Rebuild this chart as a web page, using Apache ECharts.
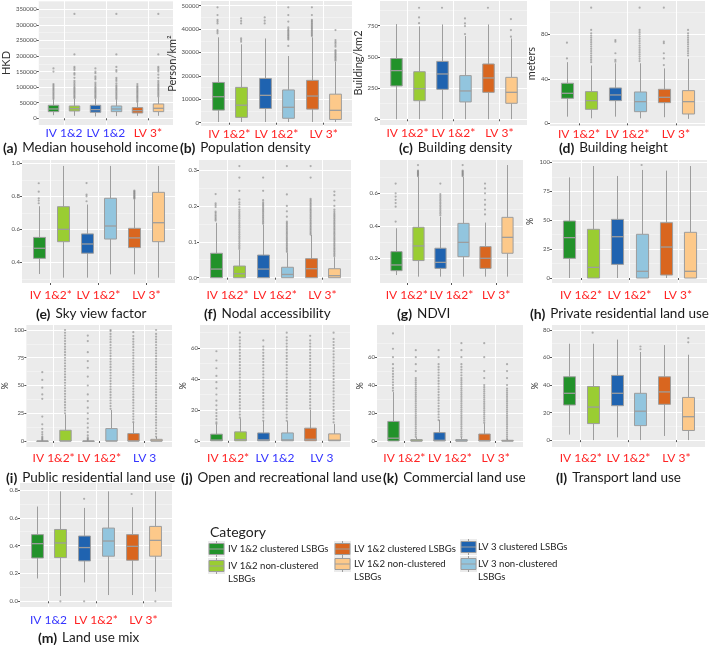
<!DOCTYPE html>
<html><head><meta charset="utf-8">
<script src="https://cdn.jsdelivr.net/npm/echarts@6/dist/echarts.min.js"></script>
<style>html,body{margin:0;padding:0;background:#fff}#c{width:709px;height:645px}</style>
</head><body><div id="c"></div>
<script>
// ---------- categories ----------
const boxNames = ['IV 1&2 clustered LSBGs','IV 1&2 non-clustered LSBGs','LV 3 clustered LSBGs','LV 3 non-clustered LSBGs','LV 1&2 clustered LSBGs','LV 1&2 non-clustered LSBGs'];
const boxColors = ['#22922a','#9acd32','#1f63b0','#92c5de','#d9661f','#fdc98a'];
const legendOrder = [0,1,4,5,2,3];
const legendTexts = ['IV 1&2 clustered LSBGs','IV 1&2 non-clustered\nLSBGs','LV 1&2 clustered LSBGs','LV 1&2 non-clustered\nLSBGs','LV 3 clustered LSBGs','LV 3 non-clustered\nLSBGs'];

// ---------- (a) Median household income ----------
const incomeLabels = ['IV 1&2','LV 1&2','LV 3*'];
const incomeTicks = ['0','50000','100000','150000','200000','250000','300000','350000'];
const incomeBoxes = [[10000,21400,30000,41800,60000],[8000,23500,31000,39600,62000],[6000,19300,27800,41800,62000],[7000,21400,30000,39600,60000],[8000,17100,24600,34300,50000],[8000,21400,32100,46000,68000]];
const incomeOutliers = [
 [62000,66000,70000,74000,78000,82000,86000,90000,94000,98000,102000,106000,110000,150000,160000],
 [64000,68000,72000,76000,80000,84000,88000,92000,96000,100000,105000,110000,115000,120000,130000,140000,145000,155000,160000,165000,205000,335000],
 [64000,68000,72000,76000,80000,84000,88000,92000,96000,100000,105000,110000,115000,125000,130000,135000,145000,150000,160000],
 [62000,66000,70000,74000,78000,82000,86000,90000,94000,98000,102000,106000,112000,120000,125000,130000,150000,155000,165000,205000,335000],
 [52000,56000,60000,64000,68000,72000,76000,80000,84000,88000,92000,96000,100000,104000,110000],
 [70000,74000,78000,82000,86000,90000,94000,98000,102000,106000,110000,115000,120000,130000,140000,150000,155000,160000,165000,205000,335000]
];
// ---------- (b) Population density ----------
const popLabels = ['IV 1&2*','LV 1&2*','LV 3*'];
const popTicks = ['0','10000','20000','30000','40000','50000'];
const popBoxes = [[300,5400,11100,17200,36500],[300,2300,7500,15100,33500],[300,6100,11700,18900,36000],[300,1900,6600,14000,28500],[300,5800,11400,18100,36500],[300,1400,5300,12200,26000]];
const popOutliers = [
 [38200,38900,39600,42400,43200,43900,46000,49300],
 [34600,35300,36000,42400,43500,44600],
 [42400,43600,45000],
 [32800,35500,36000,36500,37000,37500,38000,38500,39000,39500,40000,40700,43200,46000,49300],
 [37000,37500,38000,38500,39000,39500,40000,40500,41000,41500,42000,42500,43000,43500,44000,46000,49300],
 [26500,27000,27500,28000,28500,29000,29500,30000,30500,31000,32500,33200,34000,34600,35300,39600]
];
// ---------- (c) Building density ----------
const bldLabels = ['IV 1&2*','LV 1&2*','LV 3*'];
const bldTicks = ['0','250','500','750'];
const bldBoxes = [[0,267,390,488,763],[0,149,245,381,745],[0,240,363,464,760],[0,139,227,350,667],[0,216,331,443,760],[0,128,216,336,648]];
const bldOutliers = [[],[770,816,894],[894],[683,747,768,808],[894],[662,715,803]];
// ---------- (d) Building height ----------
const hgtLabels = ['IV 1&2*','LV 1&2*','LV 3*'];
const hgtTicks = ['0','40','80'];
const hgtBoxes = [[6,22.5,27,36,55],[4.5,12.6,20.4,28.5,52],[6,20.4,25.5,31.8,54],[4.5,10.5,19.5,28.2,54],[5.5,18.6,23.4,30.6,49.4],[4,8.4,19.5,29.4,58]];
const hgtOutliers = [
 [58.4,72.5],
 [55,57,59,61,63,65,67,69,71,73,75,77,79,81,84,104],
 [55.4,57,63,73.4,74.9],
 [56,58,60,62,64,66,68,70,72,74,76,78,80,82,84,104],
 [52.4,58.4,63,72,73.4,104],
 [61,63,65,67,69,71,73,75,77,79,81,84]
];
// ---------- (e) Sky view factor ----------
const svfLabels = ['IV 1&2*','LV 1&2*','LV 3*'];
const svfTicks = ['0.4','0.6','0.8','1.0'];
const svfBoxes = [[0.329,0.424,0.485,0.551,0.74],[0.307,0.525,0.600,0.737,0.984],[0.307,0.455,0.511,0.572,0.75],[0.327,0.541,0.620,0.788,0.984],[0.327,0.489,0.548,0.606,0.78],[0.307,0.525,0.640,0.824,0.984]];
const svfOutliers = [[0.758,0.774,0.788,0.828,0.879],[],[0.77,0.80,0.81,0.88],[],[0.785,0.79,0.795,0.80,0.805,0.81,0.815,0.82,0.825,0.83,0.835],[]];
// ---------- (f) Nodal accessibility ----------
const nodLabels = ['IV 1&2*','LV 1&2*','LV 3*'];
const nodTicks = ['0.0','0.1','0.2','0.3'];
const nodBoxes = [[0,0,0.024,0.068,0.153],[0,0,0.011,0.0325,0.077],[0,0,0.024,0.063,0.147],[0,0,0.009,0.029,0.07],[0,0,0.025,0.053,0.119],[0,0,0.0056,0.025,0.057]];
const nodOutliers = [
 [0.159,0.163,0.167,0.171,0.175,0.18,0.184,0.197,0.202,0.207,0.233],
 [0.08,0.085,0.09,0.095,0.1,0.105,0.11,0.115,0.12,0.125,0.13,0.135,0.14,0.145,0.15,0.155,0.16,0.165,0.17,0.175,0.18,0.185,0.19,0.197,0.204,0.21,0.218,0.242,0.279,0.311],
 [0.15,0.154,0.158,0.162,0.166,0.17,0.174,0.178,0.182,0.186,0.19,0.194,0.198,0.202,0.206,0.21,0.216,0.242,0.279],
 [0.072,0.076,0.08,0.084,0.088,0.092,0.096,0.1,0.104,0.108,0.112,0.116,0.12,0.124,0.128,0.132,0.136,0.14,0.144,0.148,0.152,0.156,0.17,0.185,0.2,0.232,0.311],
 [0.12,0.124,0.128,0.132,0.136,0.14,0.144,0.148,0.152,0.156,0.16,0.164,0.168,0.172,0.176,0.18,0.184,0.188,0.192,0.196,0.2,0.204,0.208,0.212,0.216,0.22,0.279,0.311],
 [0.06,0.064,0.068,0.072,0.076,0.08,0.084,0.088,0.092,0.096,0.1,0.104,0.108,0.112,0.116,0.12,0.124,0.128,0.132,0.136,0.14,0.144,0.148,0.152,0.156,0.16,0.164,0.168,0.172,0.176,0.18,0.185,0.19,0.2,0.215,0.23,0.24]
];
// ---------- (g) NDVI ----------
const ndviLabels = ['IV 1&2*','LV 1&2*','LV 3*'];
const ndviTicks = ['0.2','0.4','0.6'];
const ndviBoxes = [[0.097,0.124,0.159,0.241,0.385],[0.087,0.186,0.276,0.391,0.70],[0.087,0.138,0.175,0.262,0.456],[0.087,0.21,0.298,0.415,0.70],[0.087,0.138,0.2,0.272,0.42],[0.087,0.231,0.329,0.452,0.774]];
const ndviOutliers = [
 [0.426,0.518,0.54,0.56,0.58,0.6,0.66],
 [0.705,0.71,0.715,0.72,0.725,0.73,0.735,0.74,0.774],
 [0.465,0.475,0.485,0.495,0.505,0.515,0.525,0.535,0.545,0.555,0.565,0.575,0.585,0.595,0.66],
 [0.705,0.71,0.715,0.72,0.725,0.73,0.735,0.74,0.774],
 [0.47,0.5,0.53,0.56,0.6,0.63,0.66],
 []
];
// ---------- (h) Private residential land use ----------
const privLabels = ['IV 1&2*','LV 1&2*','LV 3*'];
const privTicks = ['0','25','50','75','100'];
const privBoxes = [[0,17,34.9,49.3,87],[0,0,9.2,42.1,96.8],[0,11.8,35.7,50.7,88.2],[0,0,5.8,37.8,93.4],[0,2.6,26.8,47.8,92.8],[0,0,5.8,39.5,96.8]];
const privOutliers = [[],[],[],[97.7],[],[]];
// ---------- (i) Public residential land use ----------
const pubLabels = ['IV 1&2*','LV 1&2*','LV 3'];
const pubTicks = ['0','25','50','75','100'];
const pubBoxes = [[0,0,0,0,0],[0,0,0,9.7,24],[0,0,0,0,0],[0,0,0,11.2,28],[0,0,0,6.7,16.5],[0,0,0,1.5,3.7]];
const pubOutliers = [
 [1,2,3,4,6,8,11,15,22,38,42,48,55,62],
 [25,27.5,30,32.5,35,37.5,40,42.5,45,47.5,50,52.5,55,57.5,60,62.5,65,67.5,70,72.5,75,77.5,80,82.5,85,87.5,90,92.5,95,97.5,100],
 [1,2,3,5,8,12,16,20,25,30,36,42,50,58,66,72,80,90,95],
 [29,31.5,34,36.5,39,41.5,44,46.5,49,51.5,54,56.5,59,61.5,64,66.5,69,71.5,74,76.5,79,81.5,84,86.5,89,91.5,94,96.5,99,100],
 [17,19.5,22,24.5,27,29.5,32,34.5,37,39.5,42,44.5,47,49.5,52,54.5,57,59.5,62,64.5,67,69.5,72,74.5,77,79.5,82,84.5,87,89.5,92,94.5,98],
 [4,6.5,9,11.5,14,16.5,19,21.5,24,26.5,29,31.5,34,36.5,39,41.5,44,46.5,49,51.5,54,56.5,59,61.5,64,66.5,69,71.5,74,76.5,79,81.5,84,86.5,89,91.5,94,96.5,100]
];
// ---------- (j) Open and recreational land use ----------
const openLabels = ['IV 1&2*','LV 1&2','LV 3'];
const openTicks = ['0','20','40','60'];
const openBoxes = [[0,0,0.5,4.3,10.5],[0,0,0.8,5.8,14.5],[0,0,0.6,5.1,12.7],[0,0,0.6,5.1,12.7],[0,0,1,8.2,20],[0,0,0.4,4.5,11]];
const openOutliers = [
 [11,12,14,16,18,20,23,26,30,34,38,42,47,52,58],
 [15,17,19,21,23,25,27,29,31,33,35,37,39,41,43,45,47,49,51,53,55,57,59,61,63,65,67,70],
 [13,15,17,19,21,23,25,27,29,31,33,35,37,39,41,43,45,47,49,51,53,55,57,59,61,65],
 [13,15,17,19,21,23,25,27,29,31,33,35,37,39,41,43,45,47,49,51,53,55,57,59,61,63,65,67,70],
 [21,23,25,27,29,31,33,35,37,39,41,43,45,47,49,51,53,55,57,59,61,63,65,68],
 [12,14,16,18,20,22,24,26,28,30,32,34,36,38,40,42,44,46,48,50,52,54,56,58,60,62,64,66,70]
];
// ---------- (k) Commercial land use ----------
const comLabels = ['IV 1&2*','LV 1&2*','LV 3*'];
const comTicks = ['0','20','40','60'];
const comBoxes = [[0,0,2,14,35],[0,0,0,1,2.5],[0,0,0.5,6,15],[0,0,0,1,2.5],[0,0,0.3,5,12.5],[0,0,0,0.5,1.2]];
const comOutliers = [
 [36,38,40,42,44,46,48,50,52,55,60,66,77],
 [3,4.5,6,7.5,9,10.5,12,13.5,15,16.5,18,19.5,21,22.5,24,25.5,27,28.5,30,31.5,33,34.5,36,37.5,39,40.5,42,43.5,45,50,55,60,65],
 [15,17,19,21,23,25,27,29,31,33,35,37,39,41,43,45,47,49,51,53,55,60,65],
 [3,4.5,6,7.5,9,10.5,12,13.5,15,16.5,18,19.5,21,22.5,24,25.5,27,28.5,30,31.5,33,34.5,36,37.5,39,40.5,42,43.5,45,47,49,51,53,55,60,65,70],
 [13,14.5,16,17.5,19,20.5,22,23.5,25,26.5,28,29.5,31,32.5,34,35.5,37,38.5,40,45,50,60,70],
 [1.5,3,4.5,6,7.5,9,10.5,12,13.5,15,16.5,18,19.5,21,22.5,24,25.5,27,28.5,30,31.5,33,34.5,36,37.5,40,45,50,55]
];
// ---------- (l) Transport land use ----------
const trnLabels = ['IV 1&2*','LV 1&2*','LV 3*'];
const trnTicks = ['0','20','40','60','80'];
const trnBoxes = [[4,25.5,34,46,70],[0,12,24,39,70],[2,25,34,47,73],[0,10.5,21,34,64],[3,26,35,46,69],[0,7,17,31,62]];
const trnOutliers = [[],[78],[],[66,68],[],[71,74]];
// ---------- (m) Land use mix ----------
const mixLabels = ['IV 1&2','LV 1&2*','LV 3*'];
const mixTicks = ['0.0','0.2','0.4','0.6','0.8'];
const mixBoxes = [[0.164,0.311,0.414,0.479,0.681],[0.038,0.314,0.419,0.516,0.79],[0.136,0.29,0.386,0.469,0.671],[0.045,0.324,0.433,0.526,0.79],[0.045,0.295,0.395,0.479,0.676],[0.069,0.324,0.438,0.538,0.79]];
const mixOutliers = [[],[0],[0,0.736],[],[0.771],[0]];

// ---------- layout (positions / styles only) ----------
const panels = [
 {tag:'(a)', cap:'Median household income', labels:incomeLabels, ticks:incomeTicks, boxes:incomeBoxes, out:incomeOutliers, yName:'HKD', gap:21, rect:[32,1,173,125], range:[-21500,376650], lm:2, cap0:[3,147]},
 {tag:'(b)', cap:'Population density', labels:popLabels, ticks:popTicks, boxes:popBoxes, out:popOutliers, yName:'Person/km\u00b2', gap:14, rect:[201,1,352,126], range:[-1400,52000], lm:2, cap0:[180,147]},
 {tag:'(c)', cap:'Building density', labels:bldLabels, ticks:bldTicks, boxes:bldBoxes, out:bldOutliers, yName:'Building/km2', gap:11, rect:[380,1,527,125], range:[-46,948], lm:2, cap0:[399,147]},
 {tag:'(d)', cap:'Building height', labels:hgtLabels, ticks:hgtTicks, boxes:hgtBoxes, out:hgtOutliers, yName:'meters', gap:5, rect:[550,1,705,126], range:[-2.4,110], lm:2, cap0:[559,147]},
 {tag:'(e)', cap:'Sky view factor', labels:svfLabels, ticks:svfTicks, boxes:svfBoxes, out:svfOutliers, yName:'', gap:10, rect:[22,160,175,283], range:[0.2746,1.02], lm:6, cap0:[36,313]},
 {tag:'(f)', cap:'Nodal accessibility', labels:nodLabels, ticks:nodTicks, boxes:nodBoxes, out:nodOutliers, yName:'', gap:10, rect:[199,160,351,283], range:[-0.0148,0.3279], lm:6, cap0:[204,313]},
 {tag:'(g)', cap:'NDVI', labels:ndviLabels, ticks:ndviTicks, boxes:ndviBoxes, out:ndviOutliers, yName:'', gap:10, rect:[380,160,523,283], range:[0.048,0.805], lm:6, cap0:[397,313]},
 {tag:'(h)', cap:'Private residential land use', labels:privLabels, ticks:privTicks, boxes:privBoxes, out:privOutliers, yName:'%', gap:17, rect:[552,160,707,283], range:[-4.3,102], lm:6, cap0:[530,313]},
 {tag:'(i)', cap:'Public residential land use', labels:pubLabels, ticks:pubTicks, boxes:pubBoxes, out:pubOutliers, yName:'%', gap:8, rect:[22,325,172,447], range:[-5.4,104.5], lm:5, cap0:[6,477]},
 {tag:'(j)', cap:'Open and recreational land use', labels:openLabels, ticks:openTicks, boxes:openBoxes, out:openOutliers, yName:'%', gap:8, rect:[200,325,350,447], range:[-4,75], lm:5, cap0:[181,477]},
 {tag:'(k)', cap:'Commercial land use', labels:comLabels, ticks:comTicks, boxes:comBoxes, out:comOutliers, yName:'%', gap:6, rect:[377,325,523,447], range:[-4.3,83], lm:5, cap0:[383,477]},
 {tag:'(l)', cap:'Transport land use', labels:trnLabels, ticks:trnTicks, boxes:trnBoxes, out:trnOutliers, yName:'%', gap:7, rect:[552,325,705,447], range:[-5,83.6], lm:5, cap0:[556,477]},
 {tag:'(m)', cap:'Land use mix', labels:mixLabels, ticks:mixTicks, boxes:mixBoxes, out:mixOutliers, yName:'', gap:10, rect:[20,483,172,607], range:[-0.041,0.85], lm:7, cap0:[38,637]}
];

const FONT = 'Lato, "Noto Sans", sans-serif';
const GRID_BG = '#ebebeb';
const EDGE = '#9d9d9d';
// ggplot-like dodge: pair centres at 1,2,3, boxes at +-0.25
const boxX = i => Math.floor(i / 2) + 1 + (i % 2 ? 0.25 : -0.25);

function renderBox(params, api) {
  const x = api.value(0);
  const pLow = api.coord([x, api.value(1)]);
  const pQ1 = api.coord([x, api.value(2)]);
  const pMed = api.coord([x, api.value(3)]);
  const pQ3 = api.coord([x, api.value(4)]);
  const pHigh = api.coord([x, api.value(5)]);
  const w = api.size([0.25, 0])[0];
  const cx = Math.round(pLow[0]) + 0.5;
  const st = {stroke: EDGE, lineWidth: 1};
  return {type: 'group', children: [
    {type: 'line', shape: {x1: cx, y1: pLow[1], x2: cx, y2: pQ1[1]}, style: st},
    {type: 'line', shape: {x1: cx, y1: pQ3[1], x2: cx, y2: pHigh[1]}, style: st},
    {type: 'rect', shape: {x: cx - w / 2, y: pQ3[1], width: w, height: Math.max(pQ1[1] - pQ3[1], 0.5)}, style: {fill: boxColors[params.dataIndex], stroke: EDGE, lineWidth: 1}},
    {type: 'line', shape: {x1: cx - w / 2, y1: pMed[1], x2: cx + w / 2, y2: pMed[1]}, style: {stroke: EDGE, lineWidth: 1.3}}
  ]};
}

const grids = [], xAxes = [], yAxes = [], series = [], titles = [];
panels.forEach((p, k) => {
  const [l, t, r, b] = p.rect;
  grids.push({left: l, top: t, width: r - l, height: b - t, show: true, backgroundColor: GRID_BG, borderWidth: 0});
  const labs = p.labels;
  xAxes.push({
    type: 'value', gridIndex: k, min: 0.4, max: 3.6,
    axisLine: {show: false},
    axisTick: {show: true, length: 2, lineStyle: {color: '#555'}, customValues: [1, 2, 3]},
    axisLabel: {customValues: [1, 2, 3], margin: p.lm, fontFamily: FONT,
      formatter: v => { const s = labs[Math.round(v) - 1] || ''; return s.indexOf('*') >= 0 ? '{r|' + s + '}' : '{b|' + s + '}'; },
      rich: {r: {color: '#ff2323', fontSize: 12, fontFamily: FONT}, b: {color: '#3434ff', fontSize: 12, fontFamily: FONT}}},
    splitLine: {show: true, lineStyle: {color: '#ffffff', width: 1}}
  });
  const tv = p.ticks.map(Number);
  const step = tv[1] - tv[0];
  const minors = [tv[0] - step / 2].concat(tv.map(v => v + step / 2)).filter(v => v > p.range[0] && v < p.range[1]);
  yAxes.push({
    type: 'value', gridIndex: k, min: p.range[0], max: p.range[1],
    name: p.yName, nameLocation: 'middle', nameGap: p.gap,
    nameTextStyle: {fontSize: p.yName === '%' ? 9 : 11, color: '#333', fontFamily: FONT},
    axisLine: {show: false},
    axisTick: {show: true, length: 2, lineStyle: {color: '#555'}, customValues: tv},
    axisLabel: {customValues: tv, fontSize: 6, color: '#4d4d4d', margin: 2, fontFamily: FONT,
      formatter: v => { const i = tv.findIndex(q => Math.abs(q - v) < 1e-9); return i >= 0 ? p.ticks[i] : ''; }},
    splitLine: {show: true, lineStyle: {color: '#ffffff', width: 1}}
  });
  yAxes.push({
    type: 'value', gridIndex: k, min: p.range[0], max: p.range[1], position: 'left',
    axisLine: {show: false}, axisLabel: {show: false},
    axisTick: {show: false, customValues: minors},
    splitLine: {show: true, lineStyle: {color: '#f6f6f6', width: 0.6}}
  });
  series.push({
    type: 'custom', xAxisIndex: k, yAxisIndex: 2 * k, renderItem: renderBox,
    encode: {x: 0, y: [1, 2, 3, 4, 5]},
    data: p.boxes.map((bx, i) => [boxX(i)].concat(bx)), z: 2
  });
  const pts = [];
  p.out.forEach((list, i) => list.forEach(v => pts.push([boxX(i), v])));
  series.push({
    type: 'scatter', xAxisIndex: k, yAxisIndex: 2 * k, data: pts, symbolSize: 2.2,
    itemStyle: {color: 'rgba(130,130,130,0.75)'}, z: 3, silent: true
  });
  titles.push({
    text: '{t|' + p.tag + '} {n|' + p.cap + '}', left: p.cap0[0], top: p.cap0[1] - 8, padding: 0,
    textStyle: {fontWeight: 'normal', rich: {t: {fontWeight: 'bold', fontSize: 14, color: '#1a1a1a', fontFamily: FONT}, n: {fontWeight: 'normal', fontSize: 13.5, color: '#1a1a1a', fontFamily: FONT}}}
  });
});

// legend drawn as graphic keys with real text
const legendCols = [[209, 228], [335, 354], [461, 478]];
const legendRowY = [[549, 549, 547], [566, 564, 564]];
const gfx = [{type: 'text', left: 210, top: 525, style: {text: 'Category', font: '14px ' + FONT, fill: '#222'}}];
legendOrder.forEach((bi, j) => {
  const col = Math.floor(j / 2), row = j % 2;
  const [ix, tx] = legendCols[col];
  const cy = legendRowY[row][col];
  gfx.push({type: 'rect', shape: {x: ix - 1, y: cy - 8, width: 17, height: 16}, style: {fill: GRID_BG}});
  gfx.push({type: 'line', shape: {x1: ix + 7.5, y1: cy - 8, x2: ix + 7.5, y2: cy + 8}, style: {stroke: EDGE, lineWidth: 1}});
  gfx.push({type: 'rect', shape: {x: ix, y: cy - 5.5, width: 15, height: 11}, style: {fill: boxColors[bi], stroke: EDGE, lineWidth: 1}});
  gfx.push({type: 'line', shape: {x1: ix, y1: cy, x2: ix + 15, y2: cy}, style: {stroke: EDGE, lineWidth: 1}});
  gfx.push({type: 'text', x: tx, y: cy - 6.5, style: {text: legendTexts[j], font: '9.6px ' + FONT, fill: '#222', lineHeight: 13, verticalAlign: 'top'}});
});

const chart = echarts.init(document.getElementById('c'), null, {renderer: 'canvas'});
chart.setOption({
  animation: false, backgroundColor: '#ffffff',
  title: titles, grid: grids, xAxis: xAxes, yAxis: yAxes, series: series, graphic: gfx
});
</script></body></html>
